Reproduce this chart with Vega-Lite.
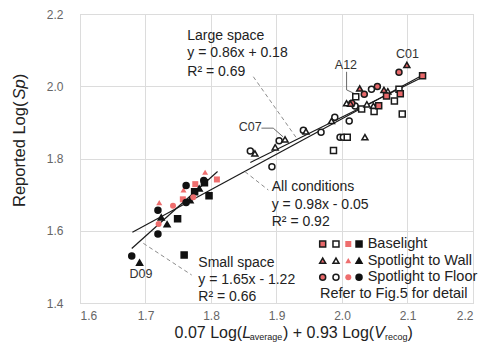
{
  "$schema": "https://vega.github.io/schema/vega-lite/v6.json",
  "width": 393,
  "height": 289,
  "autosize": {"type": "none"},
  "padding": {"left": 80, "top": 14, "right": 12, "bottom": 43},
  "background": "white",
  "config": {
    "view": {"stroke": "#c8c8c8", "strokeWidth": 1},
    "font": "Liberation Sans",
    "axis": {
      "grid": true, "gridColor": "#dcdcdc", "gridWidth": 1,
      "domain": false, "ticks": false,
      "labelFont": "Liberation Sans", "labelFontSize": 12, "labelColor": "#666666",
      "title": null
    }
  },
  "datasets": {
    "pts": [
      {"x": 1.679, "y": 1.530, "g": "Spotlight to Floor / small black"},
      {"x": 1.691, "y": 1.512, "g": "Spotlight to Wall / small black"},
      {"x": 1.719, "y": 1.591, "g": "Spotlight to Floor / small black"},
      {"x": 1.720, "y": 1.619, "g": "Spotlight to Floor / small red"},
      {"x": 1.719, "y": 1.657, "g": "Spotlight to Floor / small black"},
      {"x": 1.721, "y": 1.678, "g": "Spotlight to Wall / small red"},
      {"x": 1.724, "y": 1.637, "g": "Spotlight to Wall / small black"},
      {"x": 1.733, "y": 1.618, "g": "Spotlight to Wall / small black"},
      {"x": 1.742, "y": 1.669, "g": "Spotlight to Floor / small red"},
      {"x": 1.749, "y": 1.633, "g": "Baselight / small black"},
      {"x": 1.758, "y": 1.713, "g": "Spotlight to Wall / small red"},
      {"x": 1.757, "y": 1.687, "g": "Baselight / small red"},
      {"x": 1.762, "y": 1.725, "g": "Spotlight to Floor / small black"},
      {"x": 1.762, "y": 1.678, "g": "Spotlight to Floor / small black"},
      {"x": 1.768, "y": 1.685, "g": "Spotlight to Wall / small black"},
      {"x": 1.776, "y": 1.729, "g": "Baselight / small red"},
      {"x": 1.775, "y": 1.708, "g": "Baselight / small black"},
      {"x": 1.773, "y": 1.693, "g": "Spotlight to Floor / small red"},
      {"x": 1.782, "y": 1.717, "g": "Spotlight to Wall / small black"},
      {"x": 1.790, "y": 1.733, "g": "Baselight / small black"},
      {"x": 1.789, "y": 1.739, "g": "Spotlight to Floor / small black"},
      {"x": 1.791, "y": 1.762, "g": "Spotlight to Wall / small red"},
      {"x": 1.809, "y": 1.742, "g": "Baselight / small red"},
      {"x": 1.797, "y": 1.697, "g": "Baselight / small black"},
      {"x": 1.759, "y": 1.533, "g": "Baselight / small black"},
      {"x": 1.860, "y": 1.821, "g": "Spotlight to Floor / large white"},
      {"x": 1.867, "y": 1.814, "g": "Spotlight to Wall / large white"},
      {"x": 1.893, "y": 1.777, "g": "Spotlight to Floor / large white"},
      {"x": 1.898, "y": 1.831, "g": "Spotlight to Wall / large white"},
      {"x": 1.904, "y": 1.849, "g": "Spotlight to Floor / large white"},
      {"x": 1.913, "y": 1.853, "g": "Spotlight to Wall / large white"},
      {"x": 1.941, "y": 1.878, "g": "Spotlight to Floor / large white"},
      {"x": 1.945, "y": 1.875, "g": "Spotlight to Wall / large white"},
      {"x": 1.968, "y": 1.873, "g": "Spotlight to Floor / large white"},
      {"x": 1.984, "y": 1.904, "g": "Spotlight to Wall / large white"},
      {"x": 1.989, "y": 1.914, "g": "Spotlight to Floor / large white"},
      {"x": 2.011, "y": 1.904, "g": "Spotlight to Floor / large white"},
      {"x": 1.997, "y": 1.859, "g": "Spotlight to Floor / large white"},
      {"x": 2.002, "y": 1.859, "g": "Spotlight to Floor / large white"},
      {"x": 2.008, "y": 1.859, "g": "Baselight / large white"},
      {"x": 2.035, "y": 1.859, "g": "Spotlight to Wall / large white"},
      {"x": 1.987, "y": 1.822, "g": "Baselight / large white"},
      {"x": 2.021, "y": 1.971, "g": "Baselight / large white"},
      {"x": 2.045, "y": 1.992, "g": "Spotlight to Floor / large white"},
      {"x": 2.070, "y": 1.986, "g": "Spotlight to Wall / large white"},
      {"x": 2.080, "y": 1.959, "g": "Baselight / large white"},
      {"x": 2.087, "y": 1.992, "g": "Baselight / large white"},
      {"x": 2.092, "y": 1.923, "g": "Baselight / large white"},
      {"x": 2.007, "y": 1.953, "g": "Spotlight to Wall / large white"},
      {"x": 2.020, "y": 1.945, "g": "Spotlight to Floor / large white"},
      {"x": 2.030, "y": 1.937, "g": "Baselight / large white"},
      {"x": 2.049, "y": 1.930, "g": "Baselight / large white"},
      {"x": 2.048, "y": 1.946, "g": "Spotlight to Wall / large white"},
      {"x": 2.038, "y": 1.950, "g": "Spotlight to Wall / large white"},
      {"x": 2.099, "y": 2.059, "g": "Spotlight to Wall / large red"},
      {"x": 2.087, "y": 2.039, "g": "Spotlight to Floor / large red"},
      {"x": 2.123, "y": 2.029, "g": "Baselight / large red"},
      {"x": 2.027, "y": 1.994, "g": "Spotlight to Wall / large red"},
      {"x": 2.034, "y": 1.978, "g": "Spotlight to Floor / large red"},
      {"x": 2.054, "y": 1.999, "g": "Spotlight to Floor / large red"},
      {"x": 2.064, "y": 1.990, "g": "Spotlight to Wall / large red"},
      {"x": 2.068, "y": 1.973, "g": "Baselight / large red"},
      {"x": 2.089, "y": 1.979, "g": "Baselight / large red"},
      {"x": 2.015, "y": 1.953, "g": "Spotlight to Floor / large red"},
      {"x": 2.056, "y": 1.946, "g": "Baselight / large red"},
      {"x": 2.013, "y": 1.952, "g": "Spotlight to Wall / large red"}
    ],
    "legendKeys": [
      {"g": "Baselight / large red", "x": 1.9705, "y": 1.5633},
      {"g": "Baselight / large white", "x": 1.9908, "y": 1.5633},
      {"g": "Baselight / small red", "x": 2.0096, "y": 1.5633},
      {"g": "Baselight / small black", "x": 2.0260, "y": 1.5633},
      {"g": "Spotlight to Wall / large red", "x": 1.9705, "y": 1.5171},
      {"g": "Spotlight to Wall / large white", "x": 1.9908, "y": 1.5171},
      {"g": "Spotlight to Wall / small red", "x": 2.0096, "y": 1.5171},
      {"g": "Spotlight to Wall / small black", "x": 2.0260, "y": 1.5171},
      {"g": "Spotlight to Floor / large red", "x": 1.9705, "y": 1.4712},
      {"g": "Spotlight to Floor / large white", "x": 1.9908, "y": 1.4712},
      {"g": "Spotlight to Floor / small red", "x": 2.0096, "y": 1.4712},
      {"g": "Spotlight to Floor / small black", "x": 2.0260, "y": 1.4712}
    ],
    "legendText": [
      {"t": "Baselight", "x": 2.0392, "y": 1.5633},
      {"t": "Spotlight to Wall", "x": 2.0392, "y": 1.5171},
      {"t": "Spotlight to Floor", "x": 2.0392, "y": 1.4712},
      {"t": "Refer to Fig.5 for detail", "x": 1.9664, "y": 1.4249}
    ],
    "fits": [
      {"fit": "All conditions", "x": 1.680, "y": 1.596},
      {"fit": "All conditions", "x": 2.122, "y": 2.030},
      {"fit": "Large space", "x": 1.860, "y": 1.789},
      {"fit": "Large space", "x": 2.122, "y": 2.024},
      {"fit": "Small space", "x": 1.679, "y": 1.551},
      {"fit": "Small space", "x": 1.810, "y": 1.764}
    ],
    "dashes": [
      {"x": 1.8646, "y": 2.0264, "x2": 1.9308, "y2": 1.856},
      {"x": 1.8519, "y": 1.7635, "x2": 1.8875, "y2": 1.7128},
      {"x": 1.6967, "y": 1.5652, "x2": 1.7705, "y2": 1.4775}
    ],
    "leaders": [
      {"id": "C07", "o": 1, "x": 1.877, "y": 1.884},
      {"id": "C07", "o": 2, "x": 1.895, "y": 1.884},
      {"id": "C07", "o": 3, "x": 1.910, "y": 1.860},
      {"id": "A12", "o": 1, "x": 2.007, "y": 2.040},
      {"id": "A12", "o": 2, "x": 2.007, "y": 1.990},
      {"id": "A12", "o": 3, "x": 2.021, "y": 1.978}
    ],
    "ids": [
      {"t": "C01", "x": 2.100, "y": 2.089},
      {"t": "A12", "x": 2.006, "y": 2.059},
      {"t": "C07", "x": 1.860, "y": 1.886},
      {"t": "D09", "x": 1.693, "y": 1.479}
    ],
    "eqs": [
      {"t": "Large space", "x": 1.7638, "y": 2.139},
      {"t": "y = 0.86x + 0.18", "x": 1.7638, "y": 2.091},
      {"t": "R² = 0.69", "x": 1.7638, "y": 2.040},
      {"t": "All conditions", "x": 1.8927, "y": 1.720},
      {"t": "y = 0.98x - 0.05", "x": 1.8927, "y": 1.672},
      {"t": "R² = 0.92", "x": 1.8927, "y": 1.624},
      {"t": "Small space", "x": 1.7806, "y": 1.512},
      {"t": "y = 1.65x - 1.22", "x": 1.7806, "y": 1.464},
      {"t": "R² = 0.66", "x": 1.7806, "y": 1.417}
    ],
    "xtitleMain": [
      {"t": "0.07 Log(", "x": 1.7444},
      {"t": ") + 0.93 Log(", "x": 1.9099},
      {"t": ")", "x": 2.1000}
    ],
    "xtitleItalic": [
      {"t": "L", "x": 1.8476},
      {"t": "V", "x": 2.0492}
    ],
    "xtitleSub": [
      {"t": "average", "x": 1.8590},
      {"t": "recog", "x": 2.0657}
    ],
    "ytitleMain": [
      {"t": "Reported  Log(", "y": 1.6657},
      {"t": ")", "y": 2.0195}
    ],
    "ytitleItalic": [
      {"t": "Sp", "y": 1.9630}
    ]
  },
  "layer": [
    {
      "data": {"name": "fits"},
      "mark": {"type": "line", "color": "#1a1a1a", "strokeWidth": 1.2},
      "encoding": {
        "x": {"field": "x", "type": "quantitative", "scale": {"domain": [1.6, 2.2], "nice": false, "zero": false},
              "axis": {"values": [1.6, 1.7, 1.8, 1.9, 2.0, 2.1, 2.2], "format": ".1f", "labelPadding": 7}},
        "y": {"field": "y", "type": "quantitative", "scale": {"domain": [1.4, 2.2], "nice": false, "zero": false},
              "axis": {"values": [1.4, 1.6, 1.8, 2.0, 2.2], "format": ".1f", "labelPadding": 17}},
        "detail": {"field": "fit"}
      }
    },
    {
      "data": {"name": "dashes"},
      "mark": {"type": "rule", "color": "#8c8c8c", "strokeWidth": 1, "strokeDash": [4, 3]},
      "encoding": {
        "x": {"field": "x", "type": "quantitative"},
        "y": {"field": "y", "type": "quantitative"},
        "x2": {"field": "x2"},
        "y2": {"field": "y2"}
      }
    },
    {
      "data": {"name": "leaders"},
      "mark": {"type": "line", "color": "#444444", "strokeWidth": 0.8},
      "encoding": {
        "x": {"field": "x", "type": "quantitative"},
        "y": {"field": "y", "type": "quantitative"},
        "detail": {"field": "id"},
        "order": {"field": "o"}
      }
    },
    {
      "data": {"name": "pts"},
      "mark": {"type": "point", "filled": true, "size": 36, "strokeWidth": 1.5, "opacity": 1},
      "encoding": {
        "x": {"field": "x", "type": "quantitative"},
        "y": {"field": "y", "type": "quantitative"},
        "shape": {"field": "g", "type": "nominal", "legend": null,
          "scale": {"domain": [
            "Baselight / large red", "Baselight / large white", "Baselight / small red", "Baselight / small black",
            "Spotlight to Wall / large red", "Spotlight to Wall / large white", "Spotlight to Wall / small red", "Spotlight to Wall / small black",
            "Spotlight to Floor / large red", "Spotlight to Floor / large white", "Spotlight to Floor / small red", "Spotlight to Floor / small black"],
            "range": ["square", "square", "square", "square", "triangle-up", "triangle-up", "triangle-up", "triangle-up", "circle", "circle", "circle", "circle"]}},
        "fill": {"field": "g", "type": "nominal", "legend": null,
          "scale": {"domain": [
            "Baselight / large red", "Baselight / large white", "Baselight / small red", "Baselight / small black",
            "Spotlight to Wall / large red", "Spotlight to Wall / large white", "Spotlight to Wall / small red", "Spotlight to Wall / small black",
            "Spotlight to Floor / large red", "Spotlight to Floor / large white", "Spotlight to Floor / small red", "Spotlight to Floor / small black"],
            "range": ["#e8686a", "#ffffff", "#ee6e6e", "#111111", "#e8686a", "#ffffff", "#ee6e6e", "#111111", "#e8686a", "#ffffff", "#ee6e6e", "#111111"]}},
        "stroke": {"field": "g", "type": "nominal", "legend": null,
          "scale": {"domain": [
            "Baselight / large red", "Baselight / large white", "Baselight / small red", "Baselight / small black",
            "Spotlight to Wall / large red", "Spotlight to Wall / large white", "Spotlight to Wall / small red", "Spotlight to Wall / small black",
            "Spotlight to Floor / large red", "Spotlight to Floor / large white", "Spotlight to Floor / small red", "Spotlight to Floor / small black"],
            "range": ["#1a1a1a", "#1a1a1a", "transparent", "#111111", "#1a1a1a", "#1a1a1a", "transparent", "#111111", "#1a1a1a", "#1a1a1a", "transparent", "#111111"]}}
      }
    },
    {
      "data": {"name": "legendKeys"},
      "mark": {"type": "point", "filled": true, "size": 36, "strokeWidth": 1.5, "opacity": 1},
      "encoding": {
        "x": {"field": "x", "type": "quantitative"},
        "y": {"field": "y", "type": "quantitative"},
        "shape": {"field": "g", "type": "nominal", "legend": null},
        "fill": {"field": "g", "type": "nominal", "legend": null},
        "stroke": {"field": "g", "type": "nominal", "legend": null}
      }
    },
    {
      "data": {"name": "legendText"},
      "mark": {"type": "text", "font": "Liberation Sans", "fontSize": 14.5, "color": "#222222", "align": "left", "baseline": "middle"},
      "encoding": {
        "x": {"field": "x", "type": "quantitative"},
        "y": {"field": "y", "type": "quantitative"},
        "text": {"field": "t"}
      }
    },
    {
      "data": {"name": "ids"},
      "mark": {"type": "text", "font": "Liberation Sans", "fontSize": 12.5, "color": "#333333", "align": "center", "baseline": "middle"},
      "encoding": {
        "x": {"field": "x", "type": "quantitative"},
        "y": {"field": "y", "type": "quantitative"},
        "text": {"field": "t"}
      }
    },
    {
      "data": {"name": "eqs"},
      "mark": {"type": "text", "font": "Liberation Sans", "fontSize": 14, "color": "#222222", "align": "left", "baseline": "middle"},
      "encoding": {
        "x": {"field": "x", "type": "quantitative"},
        "y": {"field": "y", "type": "quantitative"},
        "text": {"field": "t"}
      }
    },
    {
      "data": {"name": "xtitleMain"},
      "mark": {"type": "text", "font": "Liberation Sans", "fontSize": 16, "color": "#222222", "align": "left", "baseline": "alphabetic"},
      "encoding": {
        "x": {"field": "x", "type": "quantitative"},
        "y": {"datum": 1.3031, "type": "quantitative"},
        "text": {"field": "t"}
      }
    },
    {
      "data": {"name": "xtitleItalic"},
      "mark": {"type": "text", "font": "Liberation Sans", "fontSize": 16, "fontStyle": "italic", "color": "#222222", "align": "left", "baseline": "alphabetic"},
      "encoding": {
        "x": {"field": "x", "type": "quantitative"},
        "y": {"datum": 1.3031, "type": "quantitative"},
        "text": {"field": "t"}
      }
    },
    {
      "data": {"name": "xtitleSub"},
      "mark": {"type": "text", "font": "Liberation Sans", "fontSize": 9, "color": "#222222", "align": "left", "baseline": "alphabetic"},
      "encoding": {
        "x": {"field": "x", "type": "quantitative"},
        "y": {"datum": 1.2962, "type": "quantitative"},
        "text": {"field": "t"}
      }
    },
    {
      "data": {"name": "ytitleMain"},
      "mark": {"type": "text", "font": "Liberation Sans", "fontSize": 16.5, "color": "#222222", "align": "left", "baseline": "middle", "angle": 270},
      "encoding": {
        "x": {"datum": 1.5084, "type": "quantitative"},
        "y": {"field": "y", "type": "quantitative"},
        "text": {"field": "t"}
      }
    },
    {
      "data": {"name": "ytitleItalic"},
      "mark": {"type": "text", "font": "Liberation Sans", "fontSize": 16.5, "fontStyle": "italic", "color": "#222222", "align": "left", "baseline": "middle", "angle": 270},
      "encoding": {
        "x": {"datum": 1.5084, "type": "quantitative"},
        "y": {"field": "y", "type": "quantitative"},
        "text": {"field": "t"}
      }
    }
  ]
}
